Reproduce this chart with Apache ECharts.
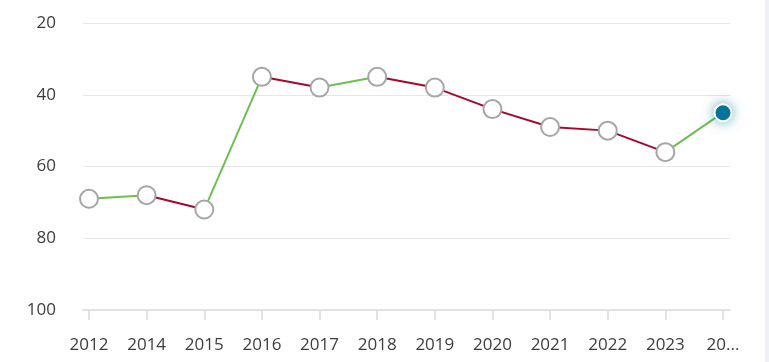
<!DOCTYPE html>
<html><head><meta charset="utf-8">
<script src="https://cdn.jsdelivr.net/npm/echarts@6/dist/echarts.min.js"></script>
<style>html,body{margin:0;padding:0;background:#fff}#c{width:769px;height:362px}</style>
</head><body><div id="c"></div>
<script>
const years = ['2012','2014','2015','2016','2017','2018','2019','2020','2021','2022','2023','2024'];
const tickLabels = ['2012','2014','2015','2016','2017','2018','2019','2020','2021','2022','2023','20...'];
const ranks = [69, 68, 72, 35, 38, 35, 38, 44, 49, 50, 56, 45];
const yTicks = [20, 40, 60, 80, 100];

const GREEN = '#6cc04f', RED = '#a3092b';
const series = [];
for (let i = 0; i < ranks.length - 1; i++) {
  const d = ranks.map((v, j) => (j === i || j === i + 1) ? v : null);
  series.push({
    type: 'line', xAxisIndex: 1, yAxisIndex: 1, data: d, symbol: 'none',
    lineStyle: { width: 2, color: ranks[i + 1] < ranks[i] ? GREEN : RED },
    silent: true, z: 2, connectNulls: false
  });
}
series.push({
  type: 'scatter', xAxisIndex: 1, yAxisIndex: 1, symbol: 'circle', symbolSize: 18,
  data: ranks.map((v, j) => j < ranks.length - 1 ? v : null),
  itemStyle: { color: '#fff', borderColor: '#a6a6a6', borderWidth: 2, opacity: 1 }, z: 3
});
series.push({
  type: 'scatter', xAxisIndex: 1, yAxisIndex: 1, symbol: 'circle', symbolSize: 17,
  data: ranks.map((v, j) => j === ranks.length - 1 ? v : null),
  itemStyle: { color: '#07739a', borderColor: '#fff', borderWidth: 2, shadowBlur: 12, shadowColor: 'rgba(0,120,170,0.55)', opacity: 1 }, z: 4
});

const chart = echarts.init(document.getElementById('c'), null, { renderer: 'canvas' });
chart.setOption({
  animation: false,
  backgroundColor: '#fff',
  textStyle: { fontFamily: 'Open Sans' },
  grid: [
    { left: 83, right: 39, top: 23, bottom: 52 },
    { left: 89, right: 46, top: 23, bottom: 52 }
  ],
  xAxis: [
    { type: 'value', gridIndex: 0, min: 0, max: 1, axisLine: { show: true, lineStyle: { color: '#e2e2e2', width: 2 } },
      axisTick: { show: false }, axisLabel: { show: false }, splitLine: { show: false } },
    { type: 'category', gridIndex: 1, data: tickLabels, boundaryGap: false,
      axisLine: { show: false },
      axisTick: { show: true, alignWithLabel: true, length: 10, lineStyle: { color: '#e2e2e2', width: 2 } },
      axisLabel: { color: '#3d3d3d', fontSize: 17, margin: 27, interval: 0, fontFamily: 'Open Sans' },
      splitLine: { show: false } }
  ],
  yAxis: [
    { type: 'value', gridIndex: 0, inverse: true, min: yTicks[0], max: yTicks[yTicks.length - 1], interval: 20,
      axisLine: { show: false }, axisTick: { show: false },
      axisLabel: { color: '#3d3d3d', fontSize: 17, margin: 27, fontFamily: 'Open Sans' },
      splitLine: { show: true, lineStyle: { color: '#e6e6e6', width: 1 } } },
    { type: 'value', gridIndex: 1, inverse: true, min: yTicks[0], max: yTicks[yTicks.length - 1], interval: 20, show: false }
  ],
  graphic: [
    { type: 'rect', right: 0, top: 0, shape: { width: 4, height: 362 }, style: { fill: '#eef2f6' }, silent: true }
  ],
  series: series
});
</script></body></html>
